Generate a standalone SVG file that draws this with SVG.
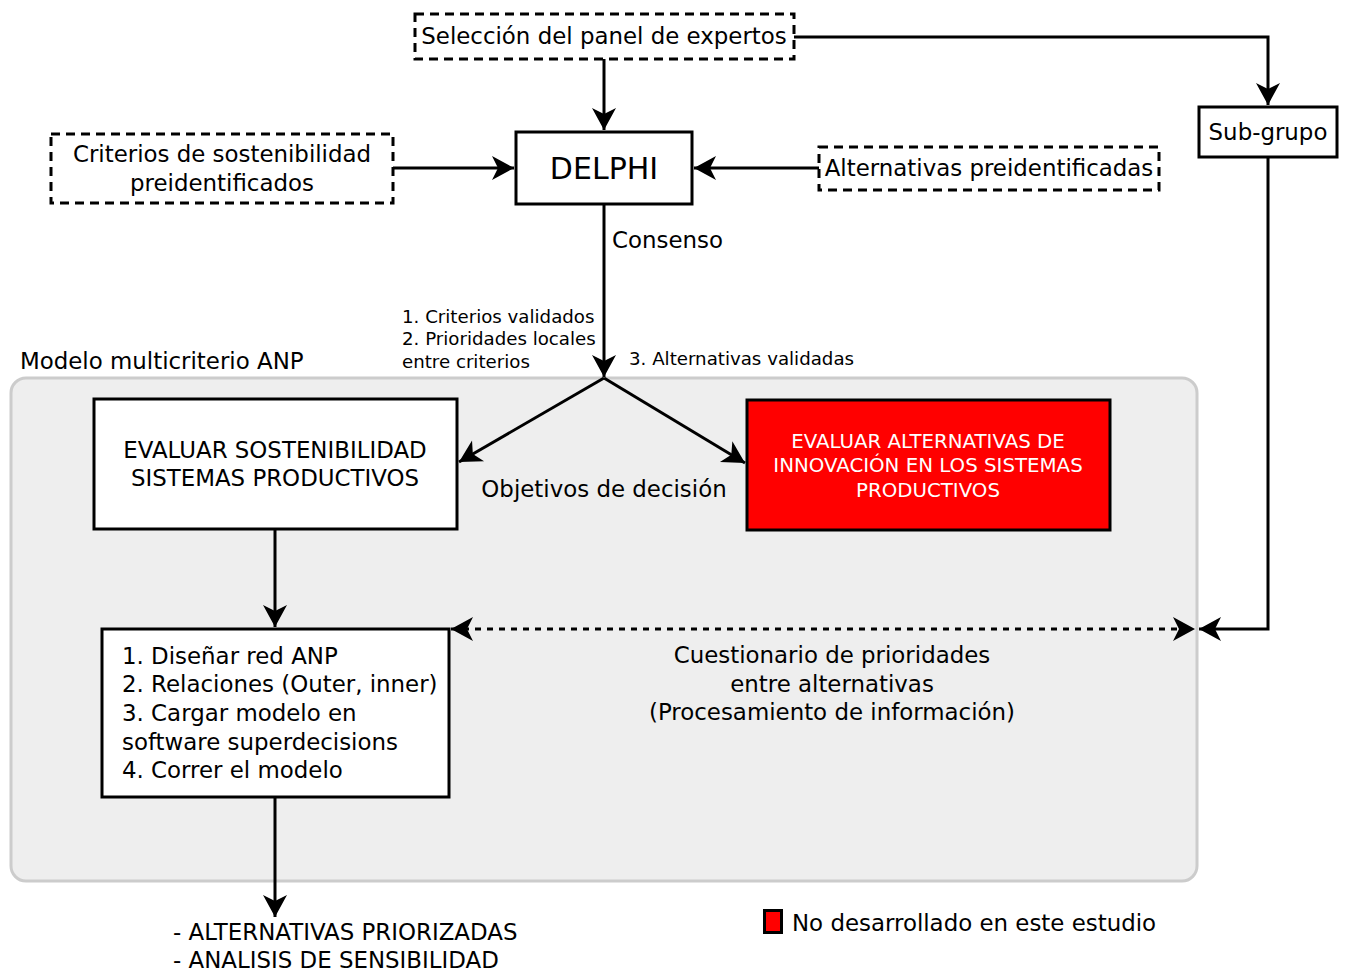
<svg xmlns="http://www.w3.org/2000/svg" width="1345" height="972" viewBox="0 0 1345 972">
  <style>
    text { font-family: "DejaVu Sans", "Liberation Sans", sans-serif; fill: #000; }
    .t { font-size: 22.9px; }
    .sm { font-size: 18.2px; }
    .mid { text-anchor: middle; }
    .box { fill: #fff; stroke: #000; stroke-width: 3; }
    .dash { fill: #fff; stroke: #000; stroke-width: 3; stroke-dasharray: 9 6; }
    .edge { fill: none; stroke: #000; stroke-width: 3; }
    .dotted { fill: none; stroke: #000; stroke-width: 3; stroke-dasharray: 6 6; }
  </style>
  <defs>
    <marker id="arrow" markerUnits="userSpaceOnUse" markerWidth="26" markerHeight="26" viewBox="0 0 26 26" refX="24" refY="13" orient="auto-start-reverse">
      <path d="M2,1 L24,13 L2,25 L8,13 z" fill="#000"/>
    </marker>
  </defs>

  <!-- ANP model container -->
  <g id="anp-container">
    <rect x="11" y="378" width="1186" height="503" rx="15" fill="#eeeeee" stroke="#cccccc" stroke-width="3"/>
    <text class="t" x="20" y="369">Modelo multicriterio ANP</text>
  </g>

  <!-- connectors -->
  <g id="connectors">
    <path class="edge" d="M604,59 V130" marker-end="url(#arrow)"/>
    <path class="edge" d="M393,168 H514" marker-end="url(#arrow)"/>
    <path class="edge" d="M819,168 H694" marker-end="url(#arrow)"/>
    <path class="edge" d="M794,37 H1268 V105" marker-end="url(#arrow)"/>
    <path class="edge" d="M604,204 V377" marker-end="url(#arrow)"/>
    <path class="edge" d="M604,378 L459,462" marker-end="url(#arrow)"/>
    <path class="edge" d="M604,378 L745,463" marker-end="url(#arrow)"/>
    <path class="edge" d="M275,529 V627" marker-end="url(#arrow)"/>
    <path class="dotted" d="M451,629 H1195" marker-start="url(#arrow)" marker-end="url(#arrow)"/>
    <path class="edge" d="M1268,157 V629 H1199" marker-end="url(#arrow)"/>
    <path class="edge" d="M275,797 V917" marker-end="url(#arrow)"/>
    <text class="t" x="612" y="248">Consenso</text>
    <text class="sm" x="402" y="323">1. Criterios validados</text>
    <text class="sm" x="402" y="345">2. Prioridades locales</text>
    <text class="sm" x="402" y="368">entre criterios</text>
    <text class="sm" x="629" y="365">3. Alternativas validadas</text>
    <text class="t mid" x="604" y="497">Objetivos de decisión</text>
    <text class="t mid" x="832" y="663">Cuestionario de prioridades</text>
    <text class="t mid" x="832" y="692">entre alternativas</text>
    <text class="t mid" x="832" y="720">(Procesamiento de información)</text>
  </g>

  <g id="seleccion">
    <rect class="dash" x="415" y="14" width="379" height="45"/>
    <text class="t mid" x="604" y="44">Selección del panel de expertos</text>
  </g>

  <g id="delphi">
    <rect class="box" x="516" y="132" width="176" height="72"/>
    <text class="mid" x="604" y="179" style="font-size:30px">DELPHI</text>
  </g>

  <g id="criterios">
    <rect class="dash" x="51" y="134" width="342" height="69"/>
    <text class="t mid" x="222" y="162">Criterios de sostenibilidad</text>
    <text class="t mid" x="222" y="191">preidentificados</text>
  </g>

  <g id="alternativas">
    <rect class="dash" x="819" y="147" width="340" height="43"/>
    <text class="t mid" x="989" y="176">Alternativas preidentificadas</text>
  </g>

  <g id="subgrupo">
    <rect class="box" x="1199" y="107" width="138" height="50"/>
    <text class="t mid" x="1268" y="140">Sub-grupo</text>
  </g>

  <g id="evaluar-sostenibilidad">
    <rect class="box" x="94" y="399" width="363" height="130"/>
    <text class="t mid" x="275" y="458">EVALUAR SOSTENIBILIDAD</text>
    <text class="t mid" x="275" y="486">SISTEMAS PRODUCTIVOS</text>
  </g>

  <g id="evaluar-alternativas">
    <rect x="747" y="400" width="363" height="130" fill="#ff0000" stroke="#000" stroke-width="3"/>
    <text class="mid" x="928" y="448" style="font-size:19.8px;fill:#fff">EVALUAR ALTERNATIVAS DE</text>
    <text class="mid" x="928" y="472" style="font-size:19.8px;fill:#fff">INNOVACIÓN EN LOS SISTEMAS</text>
    <text class="mid" x="928" y="497" style="font-size:19.8px;fill:#fff">PRODUCTIVOS</text>
  </g>

  <g id="pasos-anp">
    <rect class="box" x="102" y="629" width="347" height="168"/>
    <text class="t" x="122" y="664">1. Diseñar red ANP</text>
    <text class="t" x="122" y="692">2. Relaciones (Outer, inner)</text>
    <text class="t" x="122" y="721">3. Cargar modelo en</text>
    <text class="t" x="122" y="750">software superdecisions</text>
    <text class="t" x="122" y="778">4. Correr el modelo</text>
  </g>

  <g id="resultados">
    <text class="t" x="173" y="940">- ALTERNATIVAS PRIORIZADAS</text>
    <text class="t" x="173" y="968">- ANALISIS DE SENSIBILIDAD</text>
  </g>

  <g id="leyenda">
    <rect x="764.5" y="910.5" width="17" height="22" fill="#ff0000" stroke="#000" stroke-width="3"/>
    <text class="t" x="792" y="931">No desarrollado en este estudio</text>
  </g>
</svg>
